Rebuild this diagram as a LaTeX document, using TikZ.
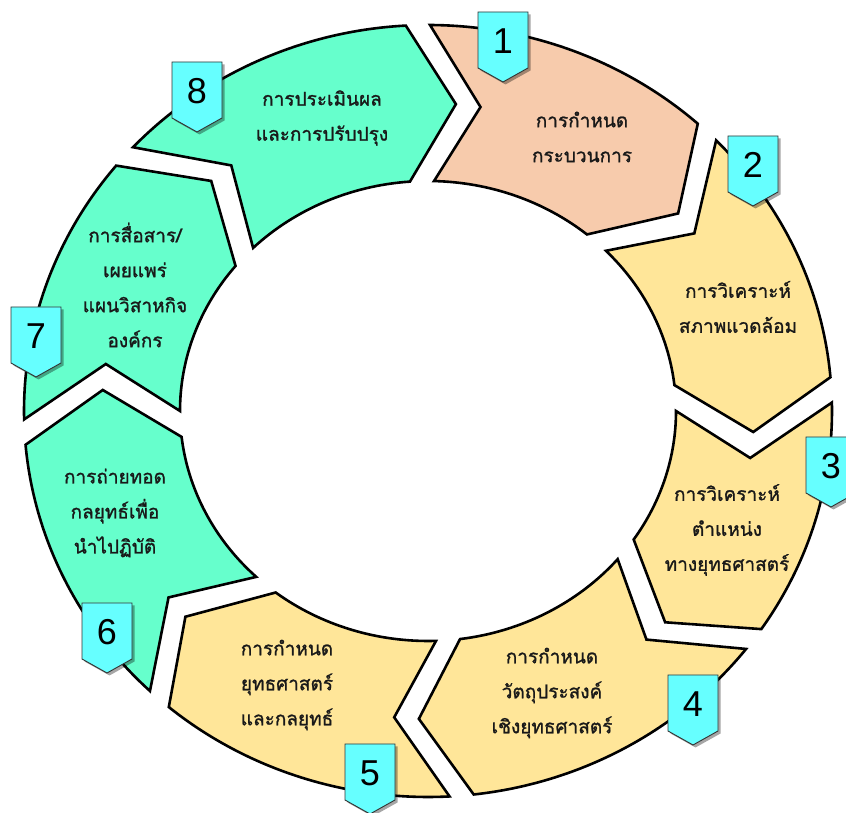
\documentclass[tikz,border=0pt]{standalone}
\usepackage{fontspec}
\setmainfont{Liberation Sans}
\newfontfamily\thaifont[Script=Thai,FakeBold=1.2]{Loma}
\usetikzlibrary{shadows}
\definecolor{peach}{HTML}{F7CBAC}
\definecolor{lyellow}{HTML}{FFE699}
\definecolor{aqua}{HTML}{66FFCC}
\definecolor{badgecyan}{HTML}{66FFFF}
\tikzset{
 declare function={ptang(\pa,\pb,\pc)=\pa+(atan2(\pb*sin(\pa),\pc*cos(\pa))-\pa)-360*round((atan2(\pb*sin(\pa),\pc*cos(\pa))-\pa)/360);},
 segline/.style={draw=black,line width=2.6pt,line join=miter,miter limit=10},
 badgebox/.style={fill=badgecyan,draw=black!80,line width=0.9pt,drop shadow={shadow xshift=2.5pt,shadow yshift=-2.5pt,opacity=0.35,fill=black}},
 numtext/.style={font=\fontsize{36}{36}\selectfont,inner sep=0pt,text=black},
 steptext/.style={font=\thaifont\fontsize{19}{35}\selectfont,align=center,inner sep=0pt,text=black!90},
}
\newcommand\ringseg[3]{%
 \pgfmathsetmacro\sgBo{ptang(#2-1.8,404,386)}%
 \pgfmathsetmacro\sgBn{ptang(#2-11.3,326,308)}%
 \pgfmathsetmacro\sgBi{ptang(#2-3,248,230)}%
 \pgfmathsetmacro\sgFi{ptang(#3+3,248,230)}%
 \pgfmathsetmacro\sgFt{ptang(#3-6.7,326,308)}%
 \pgfmathsetmacro\sgFo{ptang(#3+1.8,404,386)}%
 \path[segline,fill=#1] (\sgBo:404pt and 386pt) -- (\sgBn:326pt and 308pt) -- (\sgBi:248pt and 230pt)
   arc[start angle=\sgBi,end angle=\sgFi,x radius=248pt,y radius=230pt]
   -- (\sgFt:326pt and 308pt) -- (\sgFo:404pt and 386pt)
   arc[start angle=\sgFo,end angle=\sgBo,x radius=404pt,y radius=386pt] -- cycle;
}
\newcommand\numbadge[4]{%
 \path[badgebox] (#2,#3) -- ++(50,0) -- ++(0,-56) -- ++(-25,-14) -- ++(-25,14) -- cycle;
 \node[numtext] (#1) at (#2+25,#3-29) {#4};
}
\begin{document}
\begin{tikzpicture}[x=1pt,y=1pt]
\useasboundingbox (0,0) rectangle (846,813);
\fill[white] (0,0) rectangle (846,813);
\begin{scope}[shift={(428,402)}]
\ringseg{peach}{91.5}{45}
\ringseg{lyellow}{45}{3}
\ringseg{lyellow}{3}{-35}
\ringseg{lyellow}{-35}{-85}
\ringseg{lyellow}{-85}{-133}
\ringseg{aqua}{-133}{-177}
\ringseg{aqua}{-177}{-220}
\ringseg{aqua}{-220}{-268.5}
\end{scope}
\node[steptext] (t1) at (582,676) {การกำหนด\\กระบวนการ};
\node[steptext] (t2) at (738,506) {การวิเคราะห์\\สภาพแวดล้อม};
\node[steptext] (t3) at (727,283) {การวิเคราะห์\\ตำแหน่ง\\ทางยุทธศาสตร์};
\node[steptext] (t4) at (552,120) {การกำหนด\\วัตถุประสงค์\\เชิงยุทธศาสตร์};
\node[steptext] (t5) at (287,128) {การกำหนด\\ยุทธศาสตร์\\และกลยุทธ์};
\node[steptext] (t6) at (115,300) {การถ่ายทอด\\กลยุทธ์เพื่อ\\นำไปฏิบัติ};
\node[steptext] (t7) at (135,528) {การสื่อสาร/\\เผยแพร่\\แผนวิสาหกิจ\\องค์กร};
\node[steptext] (t8) at (322,695) {การประเมินผล\\และการปรับปรุง};
\numbadge{b1}{478}{801}{1}
\numbadge{b2}{728}{677}{2}
\numbadge{b3}{806}{376}{3}
\numbadge{b4}{668}{138}{4}
\numbadge{b5}{345}{69}{5}
\numbadge{b6}{82}{210}{6}
\numbadge{b7}{11}{506}{7}
\numbadge{b8}{172}{751}{8}
\end{tikzpicture}
\end{document}
